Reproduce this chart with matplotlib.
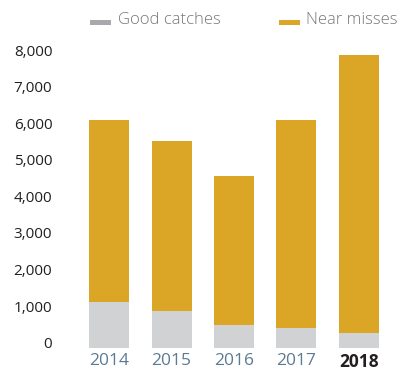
import matplotlib.pyplot as plt
from matplotlib.patches import Rectangle
from matplotlib.transforms import ScaledTranslation

years = ["2014", "2015", "2016", "2017", "2018"]
good_catches = [1260, 1010, 630, 550, 410]
near_misses = [4990, 4660, 4080, 5700, 7620]
legend_labels = ["Good catches", "Near misses"]

GOLD = "#DBA526"
GRAY = "#D1D2D4"

plt.rcParams["font.family"] = ["Open Sans", "DejaVu Sans"]

W, H = 405, 372
fig = plt.figure(figsize=(W / 100, H / 100), dpi=100)
ax = fig.add_axes([78 / W, 1 - 348 / H, 312 / W, 299.3 / H])

x = range(len(years))
ax.bar(x, good_catches, width=0.64, color=GRAY)
ax.bar(x, near_misses, width=0.64, bottom=good_catches, color=GOLD)

ax.set_xlim(-0.5, 4.5)
ax.set_ylim(0, 8200)
ax.set_yticks(range(0, 8001, 1000))
ax.set_yticklabels([f"{v:,}" for v in range(0, 8001, 1000)], fontsize=11,
                   color="#231F20", va="baseline")
shift = ScaledTranslation(0, 2.5 / 100, fig.dpi_scale_trans)
for t in ax.get_yticklabels():
    t.set_transform(t.get_transform() + shift)

ax.set_xticks(list(x))
ax.set_xticklabels(years, fontsize=12.5, color="#5C7A92")
xl = ax.get_xticklabels()[-1]
xl.set_fontweight("bold")
xl.set_color("#231F20")

ax.tick_params(axis="both", length=0)
ax.tick_params(axis="y", pad=18.5)
ax.tick_params(axis="x", pad=3.5)
for s in ax.spines.values():
    s.set_visible(False)

# legend drawn by hand, in figure pixels
for (x0, col, lab) in [(90, "#A7A9AC", legend_labels[0]), (279, GOLD, legend_labels[1])]:
    fig.add_artist(Rectangle((x0 / W, 1 - 25 / H), 21 / W, 5 / H,
                             transform=fig.transFigure, color=col, lw=0))
    fig.text((x0 + 27.5) / W, 1 - 20 / H, lab, fontsize=12, fontweight="light",
             color="#77787B", va="center", ha="left")

fig.savefig("out.png", dpi=100)
